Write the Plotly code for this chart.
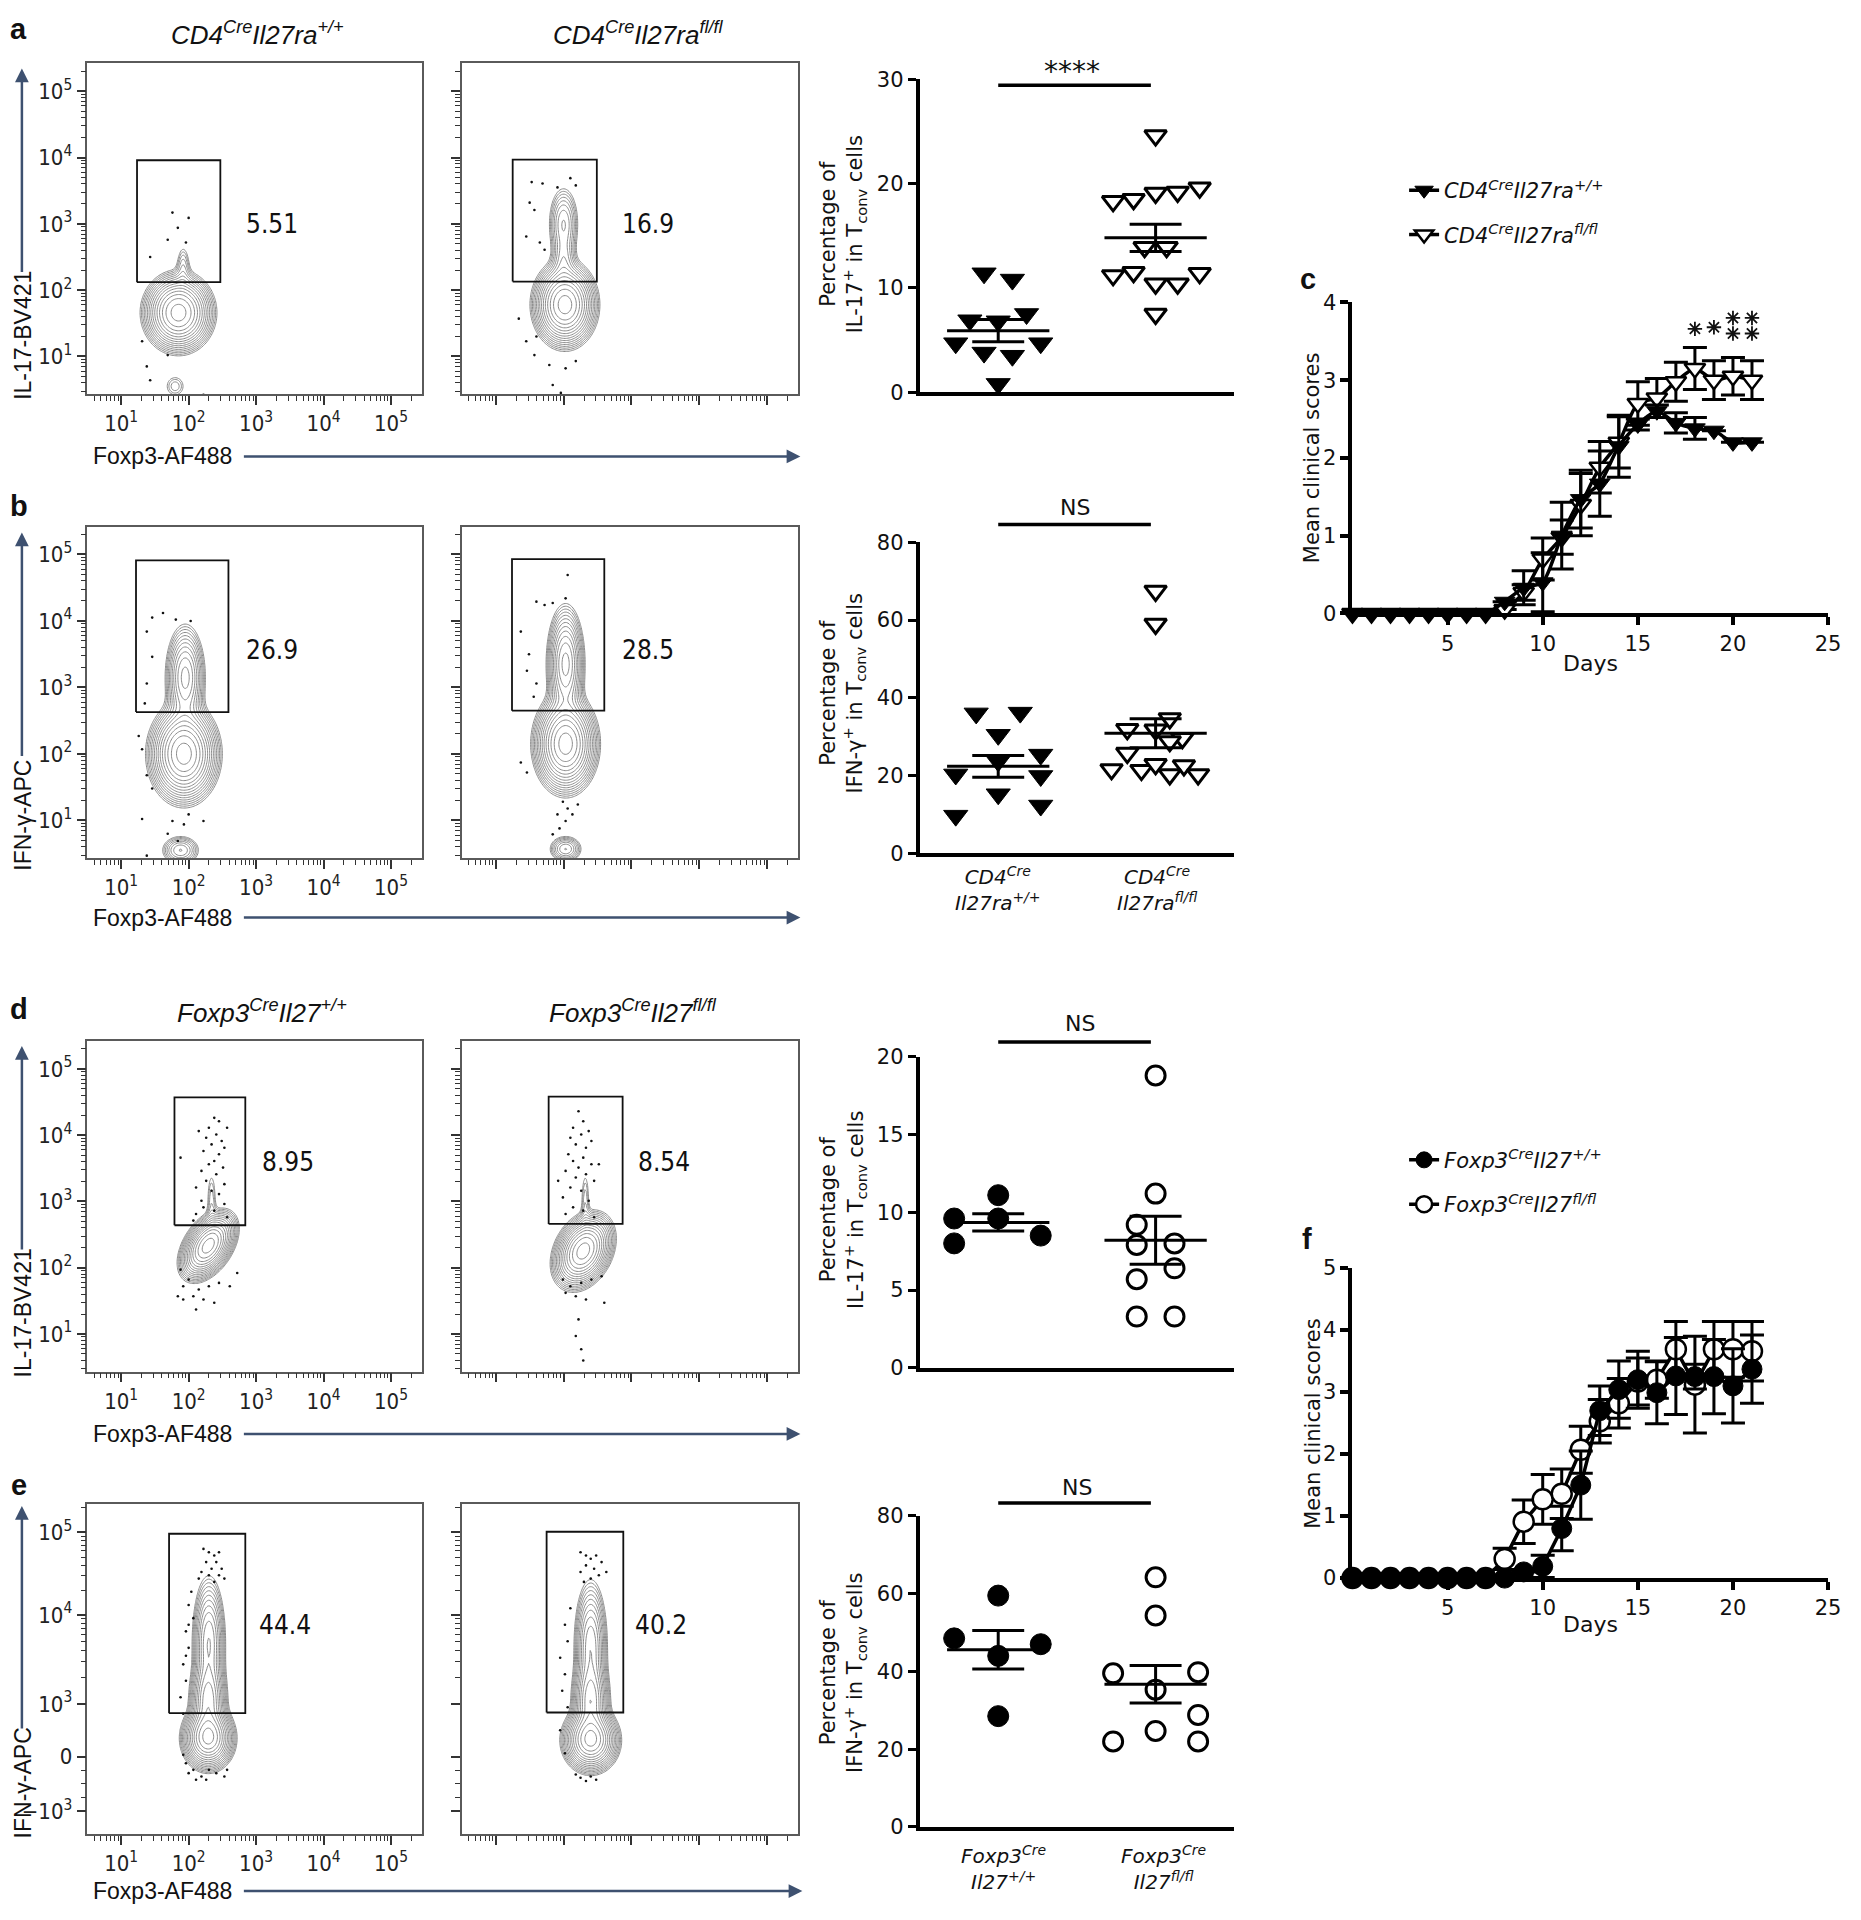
import numpy as np
import plotly.graph_objects as go

W, H = 1861, 1920          # target page size
OFF = 8                    # default body margin of the html page
FW, FH = W - 2 * OFF, H - 2 * OFF
SANS = "Liberation Sans, Arial, sans-serif"
WIDE = "DejaVu Sans, Liberation Sans, sans-serif"
NARROW = "Liberation Sans Narrow, DejaVu Sans Condensed, Liberation Sans, sans-serif"
INK = "#111111"
ARROW = "#3e5170"
CONTOUR = "#8a8a8a"

# ======================= DATA =======================
# --- dot plots (group values, horizontal jitter offsets, mean, SEM) ---
a_wt = [11.4, 10.8, 6.9, 6.8, 7.5, 4.7, 4.7, 3.8, 3.5, 0.8]
a_wt_off = [-0.09, 0.09, -0.18, 0.0, 0.18, -0.27, 0.27, -0.09, 0.09, 0.0]
a_ko = [24.6, 18.3, 18.5, 19.1, 19.2, 19.6, 13.9, 13.9, 11.2, 11.5, 10.4, 10.4, 11.4, 7.5]
a_ko_off = [0.0, -0.27, -0.14, 0.0, 0.14, 0.28, -0.07, 0.07, -0.27, -0.14, 0.0, 0.14, 0.28, 0.0]
a_mean = [5.9, 14.8]
a_sem = [1.07, 1.3]

b_wt = [36.0, 36.2, 30.5, 23.7, 25.4, 20.3, 19.9, 15.2, 12.3, 9.7]
b_wt_off = [-0.14, 0.14, 0.0, 0.0, 0.27, -0.27, 0.27, 0.0, 0.27, -0.27]
b_ko = [67.5, 59.0, 34.7, 31.9, 31.8, 29.6, 28.8, 25.8, 21.6, 21.4, 22.9, 22.6, 20.3, 20.3]
b_ko_off = [0.0, 0.0, 0.09, -0.18, 0.0, 0.17, 0.09, -0.18, -0.28, -0.09, 0.0, 0.18, 0.09, 0.27]
b_mean = [22.4, 30.9]
b_sem = [2.8, 3.75]

d_wt = [11.1, 9.6, 9.6, 8.0, 8.5]
d_wt_off = [0.0, -0.28, 0.0, -0.28, 0.27]
d_ko = [18.8, 11.2, 9.2, 7.9, 8.0, 6.4, 5.7, 3.3, 3.3]
d_ko_off = [0.0, 0.0, -0.12, -0.12, 0.12, 0.12, -0.12, -0.12, 0.12]
d_mean = [9.35, 8.2]
d_sem = [0.55, 1.55]

e_wt = [59.5, 48.5, 47.0, 44.0, 28.5]
e_wt_off = [0.0, -0.28, 0.27, 0.0, 0.0]
e_ko = [64.2, 54.4, 39.5, 39.8, 35.3, 28.8, 24.7, 22.0, 22.0]
e_ko_off = [0.0, 0.0, -0.27, 0.27, 0.0, 0.27, 0.0, -0.27, 0.27]
e_mean = [45.6, 36.7]
e_sem = [4.95, 4.85]

# --- clinical scores ---
days = [0, 1, 2, 3, 4, 5, 6, 7, 8, 9, 10, 11, 12, 13, 14, 15, 16, 17, 18, 19, 20, 21]
c_wt = [0, 0, 0, 0, 0, 0, 0, 0, 0.15, 0.33, 0.4, 1.0, 1.47, 1.67, 2.15, 2.43, 2.6, 2.45, 2.38, 2.35, 2.2, 2.2]
c_wt_sem = [None, None, None, None, None, None, None, None, None, 0.22, 0.38, 0.43, 0.37, 0.42, 0.4,
            0.07, 0.08, 0.13, 0.14, None, None, None]
c_ko = [0, 0, 0, 0, 0, 0, 0, 0, 0.05, 0.27, 0.7, 0.98, 1.4, 1.88, 2.2, 2.7, 2.77, 2.98, 3.15, 3.0, 3.05, 3.0]
c_ko_sem = [None, None, None, None, None, None, None, None, None, 0.1, 0.27, 0.22, 0.4, 0.33, 0.33,
            0.28, 0.25, 0.25, 0.27, 0.25, 0.24, 0.25]
# significance asterisks (day, height)
c_star_day = [18, 19, 20, 20, 21, 21]
c_star_y = [3.66, 3.68, 3.8, 3.6, 3.8, 3.6]

f_wt = [0, 0, 0, 0, 0, 0, 0, 0, 0, 0.1, 0.19, 0.8, 1.5, 2.7, 3.04, 3.2, 2.99, 3.26, 3.25, 3.25, 3.1, 3.37]
f_wt_sem = [None, None, None, None, None, None, None, None, None, None, 0.18, 0.36, 0.55, 0.4, 0.46,
            0.46, 0.5, 0.62, 0.2, 0.6, 0.6, 0.55]
f_ko = [0, 0, 0, 0, 0, 0, 0, 0, 0.31, 0.91, 1.27, 1.36, 2.07, 2.53, 2.82, 3.17, 3.2, 3.69, 3.12, 3.69, 3.69, 3.66]
f_ko_sem = [None, None, None, None, None, None, None, None, 0.17, 0.35, 0.4, 0.4, 0.38, 0.35, 0.4,
            0.38, 0.3, 0.45, 0.78, 0.45, 0.45, 0.48]

# --- flow cytometry (log10 decade coordinates; panel e y in display units) ---
# density blobs: (centre x, centre y, spread x, spread y, weight, correlation)
a1_blobs = [(1.85, 1.66, 0.21, 0.24, 1.0, 0.0), (1.92, 2.35, 0.06, 0.2, 0.06, 0.0), (1.8, 0.55, 0.1, 0.11, 0.05, 0.0)]
a2_blobs = [(2.02, 1.78, 0.19, 0.26, 1.0, 0.0), (2.0, 2.45, 0.09, 0.2, 0.1, 0.0), (2.0, 3.0, 0.11, 0.28, 0.15, 0.0)]
b1_blobs = [(1.93, 2.0, 0.21, 0.3, 1.0, 0.0), (1.95, 3.15, 0.13, 0.35, 0.35, 0.0), (1.88, 0.55, 0.14, 0.11, 0.15, 0.0)]
b2_blobs = [(2.03, 2.15, 0.19, 0.3, 1.0, 0.0), (2.03, 3.35, 0.12, 0.38, 0.45, 0.0), (2.03, 0.57, 0.12, 0.1, 0.15, 0.0)]
d1_blobs = [(2.29, 2.33, 0.17, 0.21, 1.0, 0.45), (2.34, 3.0, 0.045, 0.3, 0.05, 0.0)]
d2_blobs = [(2.29, 2.25, 0.18, 0.23, 1.0, 0.3), (2.32, 3.0, 0.04, 0.3, 0.05, 0.0)]
e1_blobs = [(2.29, 1.45, 0.16, 0.2, 1.0, 0.0), (2.29, 2.0, 0.12, 0.3, 0.5, 0.0), (2.3, 2.9, 0.11, 0.45, 0.35, 0.0)]
e2_blobs = [(2.4, 1.42, 0.17, 0.2, 1.0, 0.0), (2.4, 2.0, 0.12, 0.3, 0.5, 0.0), (2.4, 2.85, 0.11, 0.45, 0.33, 0.0)]

# gates: [x0, x1, y0, y1] and gate percentages
a1_gate, a2_gate = [1.235, 2.47, 2.12, 3.96], [1.25, 2.49, 2.13, 3.97]
b1_gate, b2_gate = [1.22, 2.59, 2.63, 4.91], [1.24, 2.6, 2.65, 4.93]
d1_gate, d2_gate = [1.79, 2.84, 2.64, 4.57], [1.78, 2.87, 2.66, 4.58]
e1_gate, e2_gate = [1.71, 2.84, 1.83, 4.55], [1.75, 2.88, 1.84, 4.58]
gate_pct = {"a1": "5.51", "a2": "16.9", "b1": "26.9", "b2": "28.5",
            "d1": "8.95", "d2": "8.54", "e1": "44.4", "e2": "40.2"}

# sparse individual events
a1_ev_x = [1.76, 2.0, 1.84, 1.69, 1.96, 1.43, 1.31, 1.38, 1.43, 2.22, 1.69]
a1_ev_y = [3.17, 3.09, 2.94, 2.76, 2.72, 2.5, 1.23, 0.85, 0.64, 0.42, 1.02]
a2_ev_x = [1.53, 1.69, 1.91, 2.1, 2.18, 1.5, 1.57, 1.45, 1.65, 1.72, 1.34, 1.45, 1.57, 1.79, 2.03, 2.18, 1.84, 1.96, 1.6]
a2_ev_y = [3.63, 3.61, 3.55, 3.69, 3.58, 3.32, 3.21, 2.81, 2.72, 2.61, 1.57, 1.23, 1.02, 0.87, 0.82, 0.93, 0.57, 0.45, 1.3]
b1_ev_x = [1.62, 1.46, 1.81, 2.03, 1.38, 1.46, 1.38, 1.35, 1.26, 1.31, 1.38, 1.46, 1.31, 1.76, 1.93, 2.0, 2.22, 1.38, 1.69, 1.84]
b1_ev_y = [4.12, 4.05, 4.02, 4.0, 3.84, 3.46, 3.06, 2.76, 2.27, 2.07, 1.68, 1.48, 1.02, 0.99, 0.94, 1.09, 0.99, 0.47, 0.8, 0.69]
b2_ev_x = [2.06, 2.03, 1.6, 1.72, 1.84, 1.37, 1.49, 1.46, 1.6, 1.56, 1.37, 1.46, 1.99, 2.06, 1.91, 2.03, 1.94, 2.13, 1.84, 2.21]
b2_ev_y = [4.69, 4.34, 4.29, 4.24, 4.27, 3.84, 3.5, 3.25, 3.06, 2.86, 1.87, 1.72, 1.28, 1.18, 1.09, 0.99, 0.88, 1.09, 0.79, 1.24]
d1_ev_x = [2.38, 2.45, 2.30, 2.41, 2.26, 2.49, 2.34, 2.53, 2.22, 2.45, 2.38, 2.30, 2.51, 2.19, 2.41, 2.26, 2.53,
           2.11, 2.34, 2.45, 2.19, 2.53, 2.22, 2.38, 2.11, 2.57, 2.07, 1.88, 2.15, 2.57,
           2.0, 1.92, 2.15, 2.30, 2.45, 2.61, 2.07, 2.22, 1.92, 2.11, 1.84, 2.38, 2.72, 1.88]
d1_ev_y = [4.26, 4.21, 4.11, 4.01, 3.96, 3.91, 3.86, 3.81, 3.76, 3.71, 3.61, 3.56, 3.51, 3.46, 3.41, 3.31, 3.26,
           3.21, 3.16, 3.11, 3.01, 2.96, 2.91, 2.86, 2.81, 2.76, 2.71, 3.66, 4.06, 4.11,
           1.82, 1.72, 1.67, 1.72, 1.77, 1.72, 1.57, 1.52, 1.52, 1.37, 1.57, 1.47, 1.92, 1.97]
d2_ev_x = [2.22, 2.29, 2.14, 2.37, 2.26, 2.10, 2.41, 2.18, 2.33, 2.07, 2.29, 2.14, 2.41, 2.22, 2.03, 2.33, 2.18,
           2.45, 2.10, 2.26, 1.99, 2.37, 2.14, 2.29, 2.03, 2.45, 1.92, 2.52,
           1.99, 2.10, 2.26, 2.41, 2.56, 2.18, 2.03, 2.33, 2.22, 2.18, 2.26, 2.29, 2.60]
d2_ev_y = [4.36, 4.21, 4.11, 4.06, 4.01, 3.96, 3.91, 3.86, 3.81, 3.71, 3.66, 3.61, 3.56, 3.51, 3.46, 3.41, 3.36,
           3.31, 3.21, 3.16, 3.06, 3.01, 2.91, 2.86, 2.81, 2.76, 3.31, 3.56,
           1.82, 1.72, 1.77, 1.82, 1.87, 1.57, 1.62, 1.52, 1.22, 0.97, 0.77, 0.6, 1.47]
e1_ev_x = [2.22, 2.30, 2.38, 2.45, 2.26, 2.41, 2.34, 2.49, 2.19, 2.45, 2.30, 2.15, 2.53, 2.38,
           2.04, 2.0, 2.07, 1.96, 2.0, 1.92, 1.96, 1.88, 1.92, 2.0, 1.96,
           1.96, 2.07, 2.19, 2.30, 2.41, 2.53, 2.11, 2.26, 2.0, 2.57, 1.92]
e1_ev_y = [4.32, 4.27, 4.22, 4.27, 4.12, 4.12, 4.02, 4.02, 3.97, 3.92, 3.92, 3.87, 3.87, 3.82,
           3.67, 3.47, 3.27, 3.07, 2.82, 2.57, 2.32, 2.07, 1.82, 3.17, 2.70,
           1.07, 0.97, 0.87, 0.97, 0.92, 0.87, 0.82, 0.82, 0.92, 0.97, 1.2]
e2_ev_x = [2.25, 2.33, 2.40, 2.48, 2.56, 2.33, 2.45, 2.25, 2.52, 2.40, 2.63, 2.30,
           2.10, 2.02, 2.06, 1.95, 2.02, 1.98, 2.06, 1.95, 2.02,
           2.25, 2.33, 2.40, 2.48, 2.18]
e2_ev_y = [4.27, 4.22, 4.17, 4.22, 4.12, 4.07, 4.02, 3.97, 3.92, 3.87, 3.97, 3.82,
           3.42, 3.17, 2.92, 2.67, 2.42, 2.17, 1.92, 1.57, 1.22,
           0.85, 0.80, 0.87, 0.82, 0.9]

# axis tick labels
dec_vals = [1, 2, 3, 4, 5]
dec_text = ["10<sup>1</sup>", "10<sup>2</sup>", "10<sup>3</sup>", "10<sup>4</sup>", "10<sup>5</sup>"]
e_y_vals = [0.34, 1.17, 1.97, 3.32, 4.57]
e_y_text = ["\u221210<sup>3</sup>", "0", "10<sup>3</sup>", "10<sup>4</sup>", "10<sup>5</sup>"]

# ======================= HELPERS =======================
fig = go.Figure()
lay = {}
ann = []
shapes = []


def px_x(p):
    return (p - OFF) / FW


def px_y(p):
    return 1 - (p - OFF) / FH


def axes(i, xpx, ypx, xa, ya):
    sx = "" if i == 1 else str(i)
    xa = dict(xa)
    ya = dict(ya)
    xa.update(domain=[px_x(xpx[0]), px_x(xpx[1])], anchor="y" + sx)
    ya.update(domain=[px_y(ypx[1]), px_y(ypx[0])], anchor="x" + sx)
    lay["xaxis" + sx] = xa
    lay["yaxis" + sx] = ya
    return "x" + sx, "y" + sx


def text(x, y, s, size, family=SANS, xanchor="center", yanchor="middle", angle=0, color=INK):
    ann.append(dict(x=px_x(x), y=px_y(y), xref="paper", yref="paper", text=s, showarrow=False,
                    font=dict(size=size, family=family, color=color), xanchor=xanchor,
                    yanchor=yanchor, textangle=angle))


def arrow(x0, y0, x1, y1):
    ann.append(dict(x=px_x(x1), y=px_y(y1), xref="paper", yref="paper", ax=x0 - x1, ay=y0 - y1,
                    axref="pixel", ayref="pixel", text="", showarrow=True, arrowhead=2,
                    arrowsize=1.1, arrowwidth=2.5, arrowcolor=ARROW))


minor_dec = [k + float(np.log10(m)) for k in range(0, 6) for m in range(2, 10)]
e_minor = ([1.97 + float(np.log10(m)) * 1.35 for m in range(2, 10)] +
           [3.32 + float(np.log10(m)) * 1.25 for m in range(2, 10)] +
           [4.57 + float(np.log10(2)) * 1.25] + [0.55, 0.76, 0.96])

gx = np.linspace(0.9, 3.4, 130)
gy = np.linspace(0.2, 5.2, 220)


def density(blobs):
    X, Y = np.meshgrid(gx, gy)
    Z = np.zeros_like(X)
    for cx, cy, sx, sy, w, rho in blobs:
        ux = (X - cx) / sx
        uy = (Y - cy) / sy
        q = (ux ** 2 - 2 * rho * ux * uy + uy ** 2) / (1 - rho ** 2)
        Z += w * np.exp(-0.5 * q)
    Z = np.log10(np.maximum(Z / Z.max(), 1e-6))
    return np.round(Z, 3)


def flow_plot(i, xpx, ypx, blobs, gate, ev_x, ev_y, pct, pct_px, labels, e_axis=False):
    xa = dict(range=[0.5, 5.46], showline=True, mirror=True, linecolor="#5a5a5a", linewidth=1.5,
              ticks="outside", ticklen=9, tickwidth=1.5, tickcolor="#333", tickmode="array",
              tickvals=dec_vals, ticktext=dec_text, showticklabels=labels,
              tickfont=dict(size=22, family=NARROW, color="#222"),
              minor=dict(ticks="outside", ticklen=5, tickwidth=1, tickcolor="#333",
                         tickmode="array", tickvals=minor_dec),
              showgrid=False, zeroline=False)
    if e_axis:
        ya = dict(range=[0, 5], tickvals=e_y_vals, ticktext=e_y_text,
                  minor=dict(ticks="outside", ticklen=5, tickwidth=1, tickcolor="#333",
                             tickmode="array", tickvals=e_minor))
    else:
        ya = dict(range=[0.43, 5.42], tickvals=dec_vals, ticktext=dec_text,
                  minor=dict(ticks="outside", ticklen=5, tickwidth=1, tickcolor="#333",
                             tickmode="array", tickvals=minor_dec))
    ya.update(showline=True, mirror=True, linecolor="#5a5a5a", linewidth=1.5, ticks="outside",
              ticklen=9, tickwidth=1.5, tickcolor="#333", tickmode="array", showticklabels=labels,
              tickfont=dict(size=22, family=NARROW, color="#222"), showgrid=False, zeroline=False)
    xr, yr = axes(i, xpx, ypx, xa, ya)
    fig.add_trace(go.Contour(x=gx, y=gy, z=density(blobs), xaxis=xr, yaxis=yr, showscale=False,
                             autocontour=False,
                             contours=dict(coloring="lines", start=-1.6, end=-0.04, size=0.11),
                             colorscale=[[0, CONTOUR], [1, CONTOUR]], line=dict(width=1),
                             hoverinfo="skip", showlegend=False))
    fig.add_trace(go.Scatter(x=ev_x, y=ev_y, xaxis=xr, yaxis=yr, mode="markers",
                             marker=dict(size=2.6, color="#111"), hoverinfo="skip", showlegend=False))
    x0, x1, y0, y1 = gate
    fig.add_trace(go.Scatter(x=[x0, x1, x1, x0, x0], y=[y0, y0, y1, y1, y0], xaxis=xr, yaxis=yr,
                             mode="lines", line=dict(color="#111", width=1.8), hoverinfo="skip",
                             showlegend=False))
    text(pct_px[0], pct_px[1], pct, 26, family=NARROW, xanchor="left")


def dot_plot(i, ypx, yr_max, dtick, wt, wt_off, ko, ko_off, mean, sem, circles, sig, sig_py, sig_px,
             ytitle, ytitle_cy):
    xa = dict(range=[0.5, 2.5], showline=True, linecolor="black", linewidth=3.5, ticks="",
              showticklabels=False, showgrid=False, zeroline=False)
    ya = dict(range=[0, yr_max], dtick=dtick, showline=True, linecolor="black", linewidth=3.5,
              ticks="outside", ticklen=8, tickwidth=3, tickcolor="black",
              tickfont=dict(size=21, family=WIDE, color=INK), showgrid=False, zeroline=False)
    xr, yr = axes(i, (926, 1243), ypx, xa, ya)
    sym = "circle" if circles else "triangle-down"
    size = 21
    fig.add_trace(go.Scatter(x=[1 + o for o in wt_off], y=wt, xaxis=xr, yaxis=yr, mode="markers",
                             marker=dict(symbol=sym, size=size, color="black",
                                         line=dict(color="black", width=1)),
                             cliponaxis=False, hoverinfo="skip", showlegend=False))
    fig.add_trace(go.Scatter(x=[2 + o for o in ko_off], y=ko, xaxis=xr, yaxis=yr, mode="markers",
                             marker=dict(symbol=sym, size=size - 2, color="white",
                                         line=dict(color="black", width=3)),
                             cliponaxis=False, hoverinfo="skip", showlegend=False))
    lx, ly = [], []
    for g, m, s in zip([1, 2], mean, sem):
        lx += [g - 0.325, g + 0.325, None, g - 0.165, g + 0.165, None, g - 0.165, g + 0.165, None, g, g, None]
        ly += [m, m, None, m + s, m + s, None, m - s, m - s, None, m - s, m + s, None]
    fig.add_trace(go.Scatter(x=lx, y=ly, xaxis=xr, yaxis=yr, mode="lines",
                             line=dict(color="black", width=3), hoverinfo="skip", showlegend=False))
    shapes.append(dict(type="line", xref=xr, yref="paper", x0=1, x1=1.97, y0=px_y(sig_py),
                       y1=px_y(sig_py), line=dict(color="black", width=3.5)))
    text(sig_px[0], sig_px[1], sig, 28 if sig.startswith("*") else 22, family=WIDE)
    text(849, ytitle_cy, ytitle, 21, family=WIDE, angle=-90)


SC_X = (1362, 1841)


def score_plot(i, ypx, ymax, wt, wt_sem, ko, ko_sem, circles, legend_id, names, smooth):
    xa = dict(range=[0, 25], tickvals=[5, 10, 15, 20, 25], showline=True, linecolor="black",
              linewidth=4, ticks="outside", ticklen=8, tickwidth=3.5, tickcolor="black",
              ticklabeloverflow="allow",
              tickfont=dict(size=21, family=WIDE, color=INK), showgrid=False, zeroline=False)
    ya = dict(range=[0, ymax], dtick=1, showline=True, linecolor="black", linewidth=4,
              ticks="outside", ticklen=8, tickwidth=3.5, tickcolor="black",
              tickfont=dict(size=21, family=WIDE, color=INK), showgrid=False, zeroline=False)
    xr, yr = axes(i, SC_X, ypx, xa, ya)
    sym = "circle" if circles else "triangle-down"
    size = 20 if circles else 18
    shape = "spline" if smooth else "linear"
    err = dict(type="data", color="black", thickness=3, width=12)
    fig.add_trace(go.Scatter(x=days, y=ko, xaxis=xr, yaxis=yr, mode="lines+markers",
                             name=names[1], legend=legend_id, legendgroup=legend_id + "ko",
                             legendrank=2, showlegend=True,
                             line=dict(color="black", width=3.5, shape=shape, smoothing=0.7),
                             marker=dict(symbol=sym, size=size, color="white",
                                         line=dict(color="black", width=2.5)),
                             error_y=dict(err, array=ko_sem), cliponaxis=False, hoverinfo="skip"))
    fig.add_trace(go.Scatter(x=days, y=wt, xaxis=xr, yaxis=yr, mode="lines+markers",
                             name=names[0], legend=legend_id, legendgroup=legend_id + "wt",
                             legendrank=1, showlegend=True,
                             line=dict(color="black", width=3.5, shape=shape, smoothing=0.7),
                             marker=dict(symbol=sym, size=size, color="black",
                                         line=dict(color="black", width=1)),
                             error_y=dict(err, array=wt_sem), cliponaxis=False, hoverinfo="skip"))
    return xr, yr


# ======================= PANELS =======================
COL1, COL2 = (88, 425), (465, 804)
ROW_A, ROW_B, ROW_D, ROW_E = (52, 387), (521, 857), (1042, 1377), (1511, 1845)

flow_plot(1, COL1, ROW_A, a1_blobs, a1_gate, a1_ev_x, a1_ev_y, gate_pct["a1"], (246, 215), True)
flow_plot(2, COL2, ROW_A, a2_blobs, a2_gate, a2_ev_x, a2_ev_y, gate_pct["a2"], (624, 215), False)
dot_plot(3, (68, 385), 30, 10, a_wt, a_wt_off, a_ko, a_ko_off, a_mean, a_sem, False,
         "****", 74, (1080, 60), "Percentage of<br>IL-17<sup>+</sup> in T<sub>conv</sub> cells", 225)

flow_plot(4, COL1, ROW_B, b1_blobs, b1_gate, b1_ev_x, b1_ev_y, gate_pct["b1"], (246, 646), True)
flow_plot(5, COL2, ROW_B, b2_blobs, b2_gate, b2_ev_x, b2_ev_y, gate_pct["b2"], (624, 646), False)
dot_plot(6, (537, 852), 80, 20, b_wt, b_wt_off, b_ko, b_ko_off, b_mean, b_sem, False,
         "NS", 519, (1083, 502), "Percentage of<br>IFN-\u03b3<sup>+</sup> in T<sub>conv</sub> cells", 690)

cx, cy = score_plot(7, (294, 609), 4, c_wt, c_wt_sem, c_ko, c_ko_sem, False, "legend",
                    ["<i>CD4<sup>Cre</sup>Il27ra<sup>+/+</sup></i>",
                     "<i>CD4<sup>Cre</sup>Il27ra<sup>fl/fl</sup></i>"], True)
fig.add_trace(go.Scatter(x=c_star_day, y=c_star_y, xaxis=cx, yaxis=cy, mode="markers",
                         marker=dict(symbol="asterisk-open", size=12, color=INK,
                                     line=dict(color=INK, width=1.8)),
                         cliponaxis=False, hoverinfo="skip", showlegend=False))

flow_plot(8, COL1, ROW_D, d1_blobs, d1_gate, d1_ev_x, d1_ev_y, gate_pct["d1"], (262, 1165), True)
flow_plot(9, COL2, ROW_D, d2_blobs, d2_gate, d2_ev_x, d2_ev_y, gate_pct["d2"], (640, 1165), False)
dot_plot(10, (1058, 1373), 20, 5, d_wt, d_wt_off, d_ko, d_ko_off, d_mean, d_sem, True,
         "NS", 1043, (1088, 1024), "Percentage of<br>IL-17<sup>+</sup> in T<sub>conv</sub> cells", 1213)

flow_plot(11, COL1, ROW_E, e1_blobs, e1_gate, e1_ev_x, e1_ev_y, gate_pct["e1"], (259, 1633), True, True)
flow_plot(12, COL2, ROW_E, e2_blobs, e2_gate, e2_ev_x, e2_ev_y, gate_pct["e2"], (637, 1633), False, True)
dot_plot(13, (1523, 1838), 80, 20, e_wt, e_wt_off, e_ko, e_ko_off, e_mean, e_sem, True,
         "NS", 1510, (1085, 1494), "Percentage of<br>IFN-\u03b3<sup>+</sup> in T<sub>conv</sub> cells", 1682)

score_plot(14, (1272, 1586), 5, f_wt, f_wt_sem, f_ko, f_ko_sem, True, "legend2",
           ["<i>Foxp3<sup>Cre</sup>Il27<sup>+/+</sup></i>",
            "<i>Foxp3<sup>Cre</sup>Il27<sup>fl/fl</sup></i>"], False)

# ======================= TEXT =======================
for letter, x, y in [("a", 19, 17), ("b", 19, 500), ("d", 19, 1010), ("e", 19, 1492),
                     ("c", 1317, 270), ("f", 1316, 1243)]:
    text(x, y, "<b>%s</b>" % letter, 29)

text(259, 22, "<i>CD4<sup>Cre</sup>Il27ra<sup>+/+</sup></i>", 26)
text(643, 22, "<i>CD4<sup>Cre</sup>Il27ra<sup>fl/fl</sup></i>", 26)
text(264, 1012, "<i>Foxp3<sup>Cre</sup>Il27<sup>+/+</sup></i>", 26)
text(637, 1012, "<i>Foxp3<sup>Cre</sup>Il27<sup>fl/fl</sup></i>", 26)

for lab, cy_, a0, a1 in [("IL-17-BV421", 327, 262, 57), ("IFN-\u03b3-APC", 813, 752, 527),
                         ("IL-17-BV421", 1317, 1252, 1047), ("IFN-\u03b3-APC", 1793, 1737, 1513)]:
    text(23, cy_, lab, 23, angle=-90)
    arrow(22, a0, 22, a1)
for y_, xe in [(450, 806), (917, 806), (1440, 806), (1903, 808)]:
    text(92, y_, "Foxp3-AF488", 23, xanchor="left")
    arrow(248, y_, xe, y_)

for s, x, y in [("<i>CD4<sup>Cre</sup><br>Il27ra<sup>+/+</sup></i>", 1005, 888),
                ("<i>CD4<sup>Cre</sup><br>Il27ra<sup>fl/fl</sup></i>", 1165, 888),
                ("<i>Foxp3<sup>Cre</sup><br>Il27<sup>+/+</sup></i>", 1011, 1880),
                ("<i>Foxp3<sup>Cre</sup><br>Il27<sup>fl/fl</sup></i>", 1172, 1880)]:
    text(x, y, s, 20, family=WIDE)

mid_days = (SC_X[0] + SC_X[1]) / 2
text(1322, 451, "Mean clinical scores", 21, family=WIDE, angle=-90)
text(mid_days, 660, "Days", 22, family=WIDE)
text(1322, 1429, "Mean clinical scores", 21, family=WIDE, angle=-90)
text(mid_days, 1633, "Days", 22, family=WIDE)

legend_common = dict(xanchor="left", yanchor="top", bgcolor="rgba(0,0,0,0)",
                     font=dict(size=21, family=WIDE, color=INK), tracegroupgap=14,
                     itemwidth=30, traceorder="grouped")
lay["legend"] = dict(legend_common, x=px_x(1414), y=px_y(160))
lay["legend2"] = dict(legend_common, x=px_x(1414), y=px_y(1142))

fig.update_layout(width=FW, height=FH, autosize=False, margin=dict(l=0, r=0, t=0, b=0),
                  paper_bgcolor="white", plot_bgcolor="rgba(0,0,0,0)", showlegend=True,
                  annotations=ann, shapes=shapes, font=dict(family=SANS, color=INK), **lay)

fig.write_html("out.html", config={"displayModeBar": False})
